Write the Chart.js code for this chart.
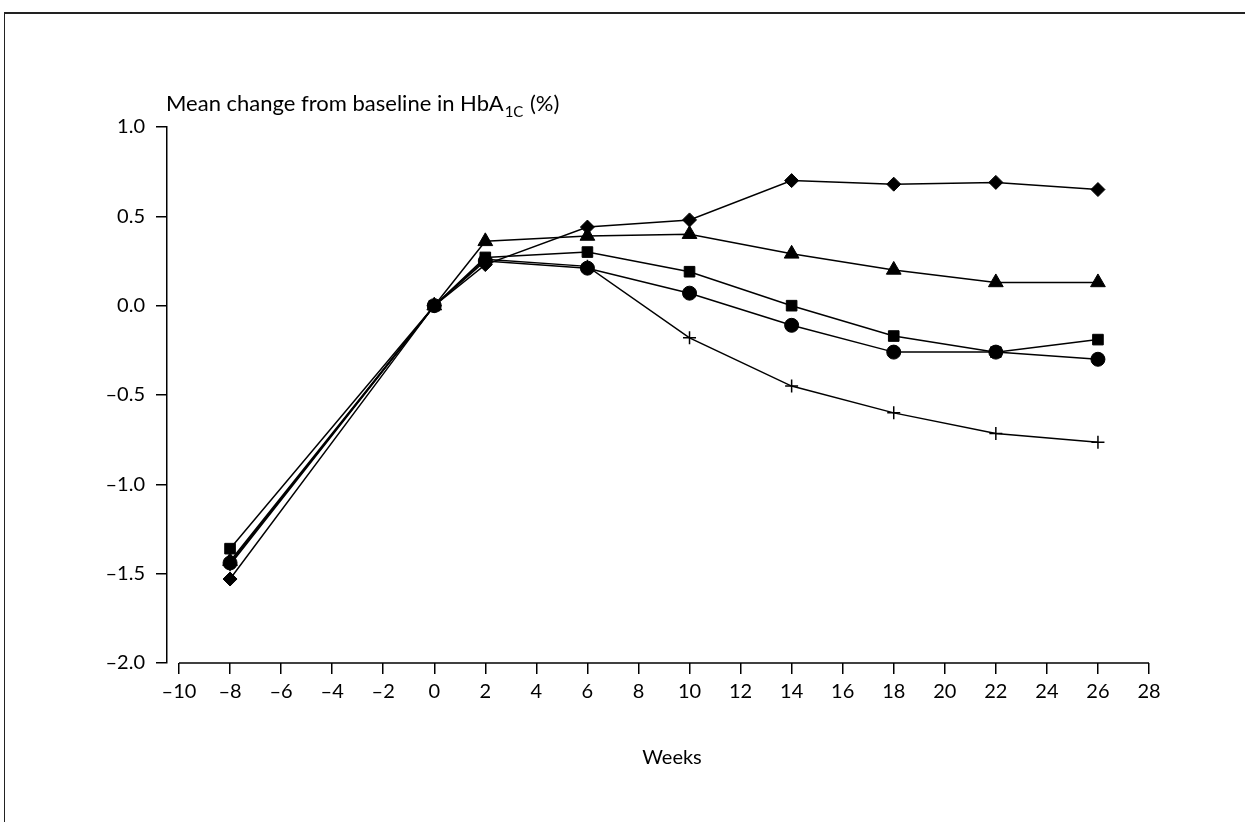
<!DOCTYPE html>
<html>
<head>
<meta charset="utf-8">
<script src="https://cdn.jsdelivr.net/npm/chart.js@4/dist/chart.umd.min.js"></script>
<style>
  html, body { margin: 0; padding: 0; background: #fff; }
  #wrap { position: relative; width: 1245px; height: 822px; overflow: hidden; }
  #frame { position: absolute; left: 4px; top: 12px; right: -10px; bottom: -10px;
           border-left: 1.5px solid #222; border-top: 2px solid #222; }
  #c { position: absolute; left: 0; top: 0; }
</style>
</head>
<body>
<div id="wrap">
  <div id="frame"></div>
  <canvas id="c" width="1245" height="822"></canvas>
</div>
<script>
// ---- data ----
const weeks = [-8, 0, 2, 6, 10, 14, 18, 22, 26];
const diamondSeries  = [-1.53, 0, 0.23, 0.44, 0.48, 0.70, 0.68, 0.69, 0.65];
const triangleSeries = [-1.43, 0, 0.36, 0.39, 0.40, 0.29, 0.20, 0.13, 0.13];
const squareSeries   = [-1.36, 0, 0.27, 0.30, 0.19, 0.00, -0.17, -0.26, -0.19];
const circleSeries   = [-1.44, 0, 0.25, 0.21, 0.07, -0.11, -0.26, -0.26, -0.30];
const plusSeries     = [-1.45, 0, 0.26, 0.22, -0.18, -0.45, -0.60, -0.715, -0.765];
const xTickValues = [-10, -8, -6, -4, -2, 0, 2, 4, 6, 8, 10, 12, 14, 16, 18, 20, 22, 24, 26, 28];
const yTickValues = [-2.0, -1.5, -1.0, -0.5, 0.0, 0.5, 1.0];
const yTitleMain = 'Mean change from baseline in HbA';
const yTitleSub = '1C';
const yTitleEnd = ' (%)';
const xTitle = 'Weeks';

const FONT = 'Lato, "Open Sans", sans-serif';

function pts(vals) { return weeks.map((w, i) => ({ x: w, y: vals[i] })).filter(p => p.y !== null); }
function ds(vals, style, radius, bw) {
  return {
    data: pts(vals), borderColor: '#000', borderWidth: 1.5, tension: 0,
    pointStyle: style, pointRadius: radius, pointHoverRadius: radius,
    pointBackgroundColor: '#000', pointBorderColor: '#000', pointBorderWidth: bw
  };
}

const axisPlugin = {
  id: 'axisExtras',
  afterDraw(chart) {
    const ctx = chart.ctx, x = chart.scales.x;
    const yb = chart.chartArea.bottom;
    ctx.save();
    ctx.strokeStyle = '#000'; ctx.lineWidth = 1.5;
    ctx.beginPath();
    ctx.moveTo(x.getPixelForValue(xTickValues[0]), yb);
    ctx.lineTo(x.getPixelForValue(xTickValues[xTickValues.length - 1]), yb);
    ctx.stroke();
    // y title
    ctx.fillStyle = '#000';
    ctx.textBaseline = 'alphabetic';
    ctx.textAlign = 'left';
    let tx = chart.chartArea.left - 1, ty = 111;
    ctx.font = '22px ' + FONT;
    ctx.fillText(yTitleMain, tx, ty);
    tx += ctx.measureText(yTitleMain).width + 1;
    ctx.font = '15px ' + FONT;
    ctx.fillText(yTitleSub, tx, ty + 6);
    tx += ctx.measureText(yTitleSub).width + 1;
    ctx.font = '22px ' + FONT;
    ctx.fillText(yTitleEnd, tx, ty);
    // x title
    ctx.textAlign = 'center';
    ctx.font = '20px ' + FONT;
    ctx.fillText(xTitle, 672, 764);
    ctx.restore();
  }
};

new Chart(document.getElementById('c'), {
  type: 'line',
  data: {
    datasets: [
      ds(plusSeries, 'cross', 6.5, 1.5),
      ds(circleSeries, 'circle', 7, 1),
      ds(squareSeries, 'rect', 7.5, 1),
      ds(triangleSeries, 'triangle', 8.5, 1),
      ds(diamondSeries, 'rectRot', 7, 1)
    ]
  },
  options: {
    responsive: false,
    animation: false,
    devicePixelRatio: 1,
    layout: { padding: { left: 0, top: 127, right: 96, bottom: 0 } },
    plugins: { legend: { display: false }, tooltip: { enabled: false }, title: { display: false } },
    scales: {
      x: {
        type: 'linear',
        min: -10.47, max: 28,
        afterFit(s) { s.height = 822 - 663; },
        afterBuildTicks(s) { s.ticks = xTickValues.map(v => ({ value: v })); },
        grid: { display: true, drawOnChartArea: false, drawTicks: true, tickLength: 11, color: '#000', lineWidth: 1.5 },
        border: { display: false },
        ticks: {
          autoSkip: false, maxRotation: 0, padding: 6, color: '#000',
          font: { family: FONT, size: 20 },
          callback: v => (v < 0 ? '\u2013' + Math.abs(v) : String(v))
        }
      },
      y: {
        type: 'linear',
        min: -2, max: 1,
        afterFit(s) { s.width = 167; },
        afterBuildTicks(s) { s.ticks = yTickValues.map(v => ({ value: v })); },
        grid: { display: true, drawOnChartArea: false, drawTicks: true, tickLength: 11, color: '#000', lineWidth: 1.5 },
        border: { display: true, color: '#000', width: 1.5 },
        ticks: {
          padding: 11, color: '#000',
          font: { family: FONT, size: 20 },
          callback: v => (v < 0 ? '\u2013' : '') + Math.abs(v).toFixed(1)
        }
      }
    }
  },
  plugins: [axisPlugin]
});
</script>
</body>
</html>
